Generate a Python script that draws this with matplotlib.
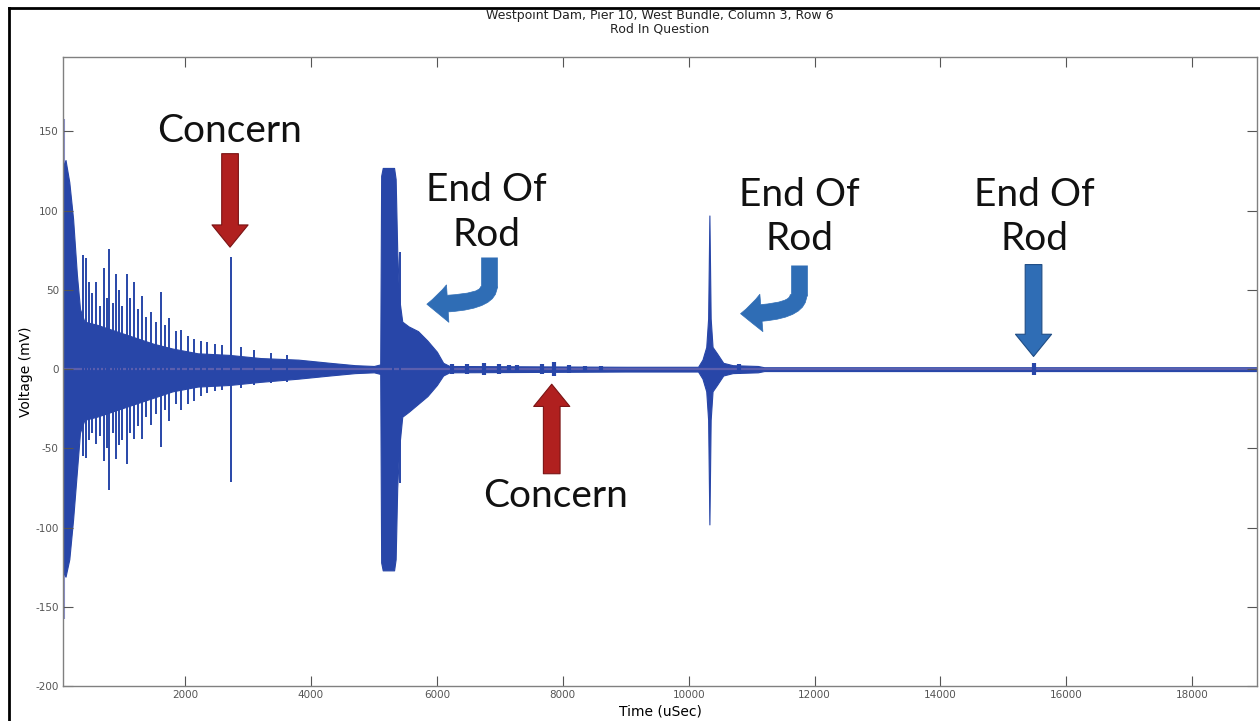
import matplotlib
matplotlib.use("Agg")
import matplotlib.pyplot as plt
from matplotlib.patches import FancyArrowPatch
from matplotlib.path import Path
from matplotlib.lines import Line2D

plt.rcParams["axes.unicode_minus"] = False

# envelope of the recorded waveform (time in uSec, upper / lower voltage in mV)
env_t = [60, 100, 160, 220, 280, 330, 400, 600, 900, 1200, 1500, 1800, 2200, 2700, 3200, 3800,
         4300, 4700, 5000, 5100, 5115, 5140, 5320, 5345, 5370, 5400, 5450, 5550, 5700, 5850,
         6000, 6100, 6200, 9000, 10150, 10220, 10280, 10310, 10330, 10350, 10380, 10450,
         10550, 10700, 11100, 11200, 19030]
env_hi = [128, 132, 118, 95, 60, 38, 30, 28, 24, 20, 16, 13, 10, 9, 7, 6,
          4, 2.5, 2, 3, 122, 127, 127, 120, 75, 45, 30, 27, 24, 18,
          11, 4, 2, 1.5, 1.5, 6, 14, 32, 97, 32, 14, 10,
          4, 2.5, 2, 1.2, 1.2]
env_lo = [-128, -131, -120, -95, -65, -40, -32, -30, -26, -22, -18, -14, -11, -10, -8, -6,
          -4, -2.5, -2, -3, -122, -127, -127, -120, -75, -50, -30, -27, -22, -17,
          -10, -4, -2, -1.5, -1.5, -6, -14, -32, -98, -32, -14, -10,
          -4, -2.5, -2, -1.2, -1.2]

# individual spikes in the ring-down (time, top, bottom)
spike_t = [370, 423, 476, 520, 582, 640, 714, 760, 794, 850, 900, 950, 1005, 1084, 1130, 1190,
           1250, 1322, 1380, 1455, 1530, 1614, 1680, 1746, 1850, 1931, 2040, 2143, 2250, 2354,
           2470, 2592, 2725, 2883, 3095, 3360, 3625, 5300, 5420]
spike_hi = [72, 70, 55, 48, 55, 40, 64, 45, 76, 42, 60, 50, 40, 60, 45, 55,
            38, 46, 33, 36, 30, 49, 28, 32, 24, 25, 21, 19, 18, 17,
            16, 15, 71, 14, 12, 10, 9, 120, 74]
spike_lo = [-55, -56, -45, -40, -47, -42, -58, -50, -76, -40, -57, -48, -45, -60, -40, -44,
            -36, -44, -30, -35, -28, -49, -26, -33, -22, -26, -22, -20, -17, -15,
            -14, -13, -71, -12, -10, -9, -8, -120, -72]

# first sample of the record
first_t = 75
first_amp = 158

# small echoes after the first end-of-rod reflection
bump_t = [6240, 6480, 6745, 6985, 7140, 7270, 7670, 7860, 8100, 8350, 8600, 10800, 15480]
bump_amp = [3, 3, 4, 3, 2.5, 2.5, 3, 4.5, 2.5, 2, 2, 3, 4]

yticks = [-200, -150, -100, -50, 0, 50, 100, 150]
xticks = [2000, 4000, 6000, 8000, 10000, 12000, 14000, 16000, 18000]

wave = "#2846a8"
red = "#b0201f"
blue = "#2f6db5"

fig = plt.figure(figsize=(12.6, 7.21), dpi=100)
ax = fig.add_axes([0.05, 0.0485, 0.9476, 0.8724])

ax.vlines([first_t], [-first_amp], [first_amp], color="#8a8fd0", lw=1.5, zorder=1)
ax.fill_between(env_t, env_lo, env_hi, color=wave, lw=0.8)
ax.vlines(spike_t, spike_lo, spike_hi, color=wave, lw=1.4)
ax.vlines(bump_t, [-a for a in bump_amp], bump_amp, color=wave, lw=3)
ax.axhline(0, color="#5b5fae", lw=1.6, zorder=1)

ax.set_xlim(60, 19030)
ax.set_ylim(-200, 197)
ax.set_xticks(xticks)
ax.set_yticks(yticks)
ax.tick_params(direction="in", length=7, width=0.8, color="#555555", labelsize=7.5,
               labelcolor="#555555", top=True, right=True, pad=3)
for s in ax.spines.values():
    s.set_color("#808080")
    s.set_linewidth(1.0)

fig.text(0.5238, 1 - 16 / 721, "Westpoint Dam, Pier 10, West Bundle, Column 3, Row 6",
         fontsize=9, family="DejaVu Sans", ha="center", va="center", color="#222222")
fig.text(0.5238, 1 - 28.5 / 721, "Rod In Question",
         fontsize=9, family="DejaVu Sans", ha="center", va="center", color="#222222")
ax.set_xlabel("Time (uSec)", fontsize=10, family="DejaVu Sans")
ax.xaxis.set_label_coords(0.5, -0.03)
ax.set_ylabel("Voltage (mV)", fontsize=10, family="DejaVu Sans")
ax.yaxis.set_label_coords(-0.025, 0.5)

# annotations
lab = dict(family="Lato", fontsize=28, ha="center", va="center", color="#111111",
           linespacing=1.3)
ax.text(2714, 150, "Concern", **lab)
ax.text(7890, -80, "Concern", **lab)
ax.text(6794, 99, "End Of\nRod", **lab)
ax.text(11762, 96, "End Of\nRod", **lab)
ax.text(15492, 96, "End Of\nRod", **lab)

straight = "simple,head_length=16,head_width=26,tail_width=12"
for (x, y0, y1, c, ec) in [(2714, 136, 77, red, "#7a1414"),
                           (7825, -66, -9.5, red, "#7a1414"),
                           (15480, 66, 8, blue, "#1e4c85")]:
    ax.add_patch(FancyArrowPatch((x, y0), (x, y1), arrowstyle=straight, mutation_scale=1,
                                 shrinkA=0, shrinkB=0, fc=c, ec=ec, lw=0.8, zorder=5))

# hook-shaped arrows: straight drop, then a bend to the left
hook = "simple,head_length=15,head_width=27,tail_width=12"
for (x0, ytop, y0, x1, y1) in [(6825, 71, 52, 5841, 41), (11746, 66, 47, 10825, 35)]:
    ax.plot([x0, x0], [ytop, y0 - 1], color=blue, lw=12, solid_capstyle="butt", zorder=5)
    p = Path([(x0, y0), (x0, y1), (x1, y1)], [Path.MOVETO, Path.CURVE3, Path.CURVE3])
    ax.add_patch(FancyArrowPatch(path=p, arrowstyle=hook, mutation_scale=1,
                                 fc=blue, ec=blue, lw=0.5, zorder=5))

# outer frame of the picture
fig.add_artist(Line2D([9 / 1260, 1], [1 - 8 / 721] * 2, color="black", lw=2))
fig.add_artist(Line2D([9 / 1260] * 2, [0, 1 - 8 / 721], color="black", lw=2))

fig.savefig("out.png", dpi=100)
